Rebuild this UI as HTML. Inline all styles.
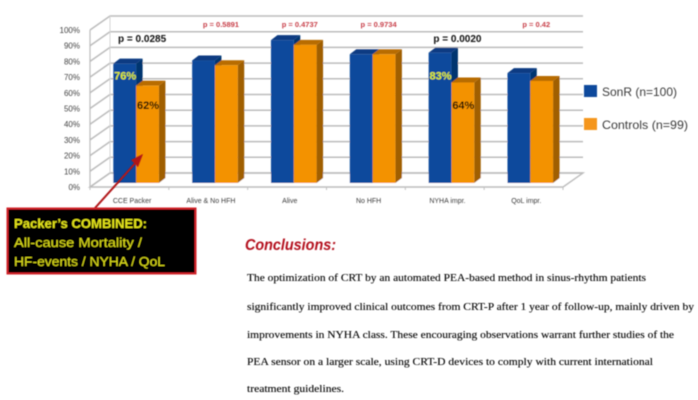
<!DOCTYPE html>
<html lang="en">
<head>
<meta charset="utf-8">
<title>SonR vs Controls clinical outcomes</title>
<style>
html,body{margin:0;padding:0;background:#fff;}
svg{display:block;width:698px;height:400px;font-family:"Liberation Sans",sans-serif;}
</style>
</head>
<body>
<svg id="chart" xmlns="http://www.w3.org/2000/svg" width="698" height="400" viewBox="0 0 698 400">
  <defs>
    <filter id="soft" x="-5%" y="-5%" width="110%" height="110%"><feGaussianBlur stdDeviation="0.45"/></filter>
  </defs>
  <g id="plot" filter="url(#soft)"></g>
  <g filter="url(#soft)">
    <g>
      <rect x="584" y="85" width="13" height="12" fill="#0a4a9c"/>
      <text x="602" y="96" font-size="12" fill="#3a3a3a" textLength="75" lengthAdjust="spacingAndGlyphs">SonR (n=100)</text>
    </g>
    <g>
      <rect x="584" y="118" width="13" height="12" fill="#f5961a"/>
      <text x="602" y="129" font-size="12" fill="#3a3a3a" textLength="86" lengthAdjust="spacingAndGlyphs">Controls (n=99)</text>
    </g>
  </g>
  <g filter="url(#soft)">
    <line x1="95" y1="208" x2="139" y2="159" stroke="#b01218" stroke-width="2"/>
    <polygon points="143,154 131,160 138,167" fill="#b01218"/>
    <rect x="7.5" y="208.5" width="188" height="65" fill="#000" stroke="#d0202a" stroke-width="2"/>
    <text x="14" y="228" font-size="13" font-weight="bold" fill="#e4e41e" textLength="133" lengthAdjust="spacingAndGlyphs">Packer’s COMBINED:</text>
    <text x="14" y="247" font-size="13" fill="#dcdc1c" textLength="128" lengthAdjust="spacingAndGlyphs">All-cause Mortality /</text>
    <text x="14" y="266" font-size="13" fill="#dcdc1c" textLength="151" lengthAdjust="spacingAndGlyphs">HF-events / NYHA / QoL</text>
  </g>
  <g filter="url(#soft)">
    <text x="245" y="250" font-size="16" font-weight="bold" font-style="italic" fill="#b3101c" textLength="91" lengthAdjust="spacingAndGlyphs">Conclusions:</text>
    <g font-family="'Liberation Serif',serif" font-size="11" fill="#000" stroke="#000" stroke-width="0.12">
      <text x="247" y="281" textLength="399" lengthAdjust="spacingAndGlyphs">The optimization of CRT by an automated PEA-based method in sinus-rhythm patients</text>
      <text x="247" y="310" textLength="447" lengthAdjust="spacingAndGlyphs">significantly improved clinical outcomes from CRT-P after 1 year of follow-up, mainly driven by</text>
      <text x="247" y="338" textLength="427" lengthAdjust="spacingAndGlyphs">improvements in NYHA class. These encouraging observations warrant further studies of the</text>
      <text x="247" y="365" textLength="406" lengthAdjust="spacingAndGlyphs">PEA sensor on a larger scale, using CRT-D devices to comply with current international</text>
      <text x="247" y="392" textLength="97" lengthAdjust="spacingAndGlyphs">treatment guidelines.</text>
    </g>
  </g>
</svg>
<script>
var categories = ['CCE Packer', 'Alive & No HFH', 'Alive', 'No HFH', 'NYHA impr.', 'QoL impr.'];
var sonrValues = [76, 78, 91, 82, 83, 70];
var controlValues = [62, 75, 88, 82, 64, 65];
var pLabels = ['p = 0.0285', 'p = 0.5891', 'p = 0.4737', 'p = 0.9734', 'p = 0.0020', 'p = 0.42'];
var pSignificant = [true, false, false, false, true, false];
var sonrPrinted = ['76%', '', '', '', '83%', ''];
var controlPrinted = ['62%', '', '', '', '64%', ''];
var yTicks = [0, 10, 20, 30, 40, 50, 60, 70, 80, 90, 100];

var NS = 'http://www.w3.org/2000/svg';
var plot = document.getElementById('plot');
var PX_PER_UNIT = 1.57;
var FRONT_FLOOR = 187, BACK_FLOOR = 173, BAR_FLOOR = 183;
var FRONT_LEFT = 90, BACK_LEFT = 110, BACK_RIGHT = 583, FRONT_RIGHT = 563;
var GROUP_STEP = (FRONT_RIGHT - FRONT_LEFT) / categories.length;
var BAR_W = 22.8, DEPTH_X = 6.5, DEPTH_Y = 5;

function yFront(v) { return FRONT_FLOOR - v * PX_PER_UNIT; }
function yBack(v) { return BACK_FLOOR - v * PX_PER_UNIT; }
function yBar(v) { return BAR_FLOOR - v * PX_PER_UNIT; }
function groupLeft(i) { return 113.3 + i * GROUP_STEP; }
function groupCenter(i) { return groupLeft(i) + BAR_W; }

function make(tag, attrs, text) {
  var el = document.createElementNS(NS, tag);
  for (var k in attrs) { el.setAttribute(k, attrs[k]); }
  if (text !== undefined) { el.textContent = text; }
  plot.appendChild(el);
  return el;
}

function drawBar(x, v, front, top, side, name) {
  var yt = yBar(v);
  var s = make('polygon', { points: (x + BAR_W) + ',' + yt + ' ' + (x + BAR_W + DEPTH_X) + ',' + (yt - DEPTH_Y) + ' ' + (x + BAR_W + DEPTH_X) + ',' + (BAR_FLOOR - DEPTH_Y) + ' ' + (x + BAR_W) + ',' + BAR_FLOOR, fill: side });
  
  
  var t = make('polygon', { points: x + ',' + yt + ' ' + (x + DEPTH_X) + ',' + (yt - DEPTH_Y) + ' ' + (x + BAR_W + DEPTH_X) + ',' + (yt - DEPTH_Y) + ' ' + (x + BAR_W) + ',' + yt, fill: top });
  
  
  var f = make('rect', { x: x, y: yt, width: BAR_W, height: BAR_FLOOR - yt, fill: front });
  
  
}

// floor
var floor = make('polygon', { points: FRONT_LEFT + ',' + FRONT_FLOOR + ' ' + FRONT_RIGHT + ',' + FRONT_FLOOR + ' ' + BACK_RIGHT + ',' + BACK_FLOOR + ' ' + BACK_LEFT + ',' + BACK_FLOOR, fill: '#fff', stroke: '#bcbcbc', 'stroke-width': 1.4 });



// gridlines and y-axis ticks
yTicks.forEach(function (v) {
  var g = make('polyline', { points: FRONT_LEFT + ',' + yFront(v) + ' ' + BACK_LEFT + ',' + yBack(v) + ' ' + BACK_RIGHT + ',' + yBack(v), fill: 'none', stroke: '#bcbcbc', 'stroke-width': 1.5 });
  
  
  var l = make('text', { x: 80, y: yFront(v) + 3, 'font-size': 8, 'text-anchor': 'end', fill: '#444' }, v + '%');
  
  
});
var yAxis = make('line', { x1: FRONT_LEFT, y1: yFront(100), x2: FRONT_LEFT, y2: FRONT_FLOOR, stroke: '#bcbcbc', 'stroke-width': 1.2 });


var backEdge = make('line', { x1: BACK_LEFT, y1: yBack(100), x2: BACK_LEFT, y2: BACK_FLOOR, stroke: '#d4d4d4', 'stroke-width': 1 });



// x-axis ticks
categories.forEach(function (c, i) {
  var tk = make('line', { x1: FRONT_LEFT + i * GROUP_STEP, y1: FRONT_FLOOR, x2: FRONT_LEFT + i * GROUP_STEP, y2: FRONT_FLOOR + 3, stroke: '#c0c0c0', 'stroke-width': 1 });
  
  
});
var endTick = make('line', { x1: FRONT_RIGHT, y1: FRONT_FLOOR, x2: FRONT_RIGHT, y2: FRONT_FLOOR + 3, stroke: '#c0c0c0', 'stroke-width': 1 });



// bars and labels
categories.forEach(function (c, i) {
  var x = groupLeft(i);
  drawBar(x, sonrValues[i], '#0a4a9c', '#083b82', '#06356f', 'bar-sonr-' + i);
  drawBar(x + BAR_W, controlValues[i], '#f39200', '#b86c00', '#a05f00', 'bar-controls-' + i);

  var cat = make('text', { x: groupCenter(i) - 4, y: 203, 'font-size': 7, 'text-anchor': 'middle', fill: '#3c3c3c' }, c);
  
  

  var sig = pSignificant[i];
  var p = make('text', { x: groupCenter(i) + 6, y: sig ? 42 : 27, 'font-size': sig ? 10 : 7.5, 'font-weight': 'bold', 'text-anchor': 'middle', fill: sig ? '#111' : '#c8404a' }, pLabels[i]);
  
  

  if (sonrPrinted[i]) {
    var a = make('text', { x: x + BAR_W / 2 + 0.5, y: yBar(66), 'font-size': 11, 'font-weight': 'bold', 'text-anchor': 'middle', fill: '#e0ee20' }, sonrPrinted[i]);
    
    
  }
  if (controlPrinted[i]) {
    var b = make('text', { x: x + BAR_W * 1.5 + 0.5, y: yBar(47), 'font-size': 11, 'font-weight': 'bold', 'text-anchor': 'middle', fill: '#000' }, controlPrinted[i]);
    
    
  }
});
</script>
</body>
</html>
